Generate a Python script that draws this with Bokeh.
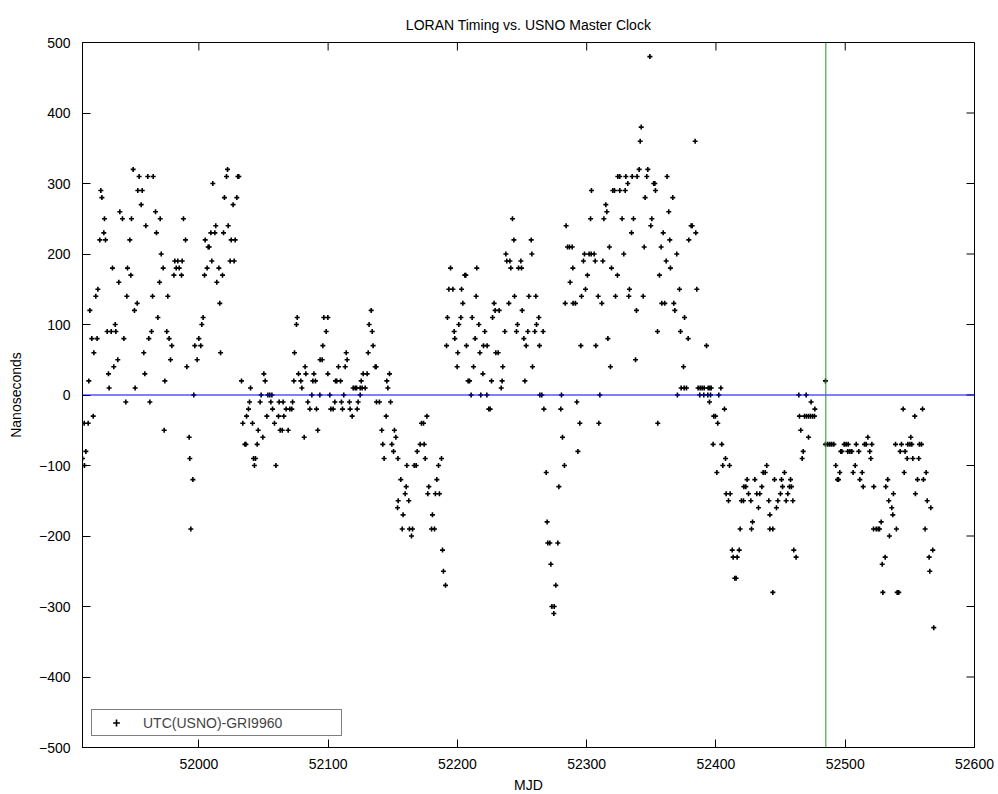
import math
from bokeh.plotting import figure
from bokeh.models import (Span, FixedTicker, Legend, LegendItem,
                          CustomJSTickFormatter, Range1d, ColumnDataSource)
from bokeh.embed import file_html
from bokeh.resources import INLINE

TITLE = "LORAN Timing vs. USNO Master Clock"
X_LABEL = "MJD"
Y_LABEL = "Nanoseconds"
SERIES_NAME = "UTC(USNO)-GRI9960"
X_RANGE = (51910, 52600)
Y_RANGE = (-500, 500)
X_TICKS = [52000, 52100, 52200, 52300, 52400, 52500, 52600]
Y_TICKS = [-500, -400, -300, -200, -100, 0, 100, 200, 300, 400, 500]
ZERO_LEVEL = 0
MARK_MJD = 52485

# (MJD, ns) readings, by stretch of time
seg_a = [(51910.0, -90), (51911.3, -40), (51911.5, -100), (51912.6, -80), (51914.4, -40),
         (51914.9, 20), (51915.7, 120), (51917.2, 80), (51918.3, -30), (51918.8, 60),
         (51920.3, 140), (51921.3, 80), (51921.9, 150), (51923.4, 220), (51924.2, 290),
         (51925.0, 280), (51926.5, 230), (51927.0, 250), (51927.8, 220), (51929.1, 90),
         (51930.1, 30), (51930.6, 10), (51932.2, 90), (51933.2, 180), (51934.2, 40),
         (51935.3, 100), (51935.8, 90), (51937.3, 50), (51938.1, 160), (51938.9, 260),
         (51940.9, 250), (51942.0, 80), (51943.5, -10), (51944.3, 140), (51944.8, 180),
         (51946.6, 220), (51947.4, 170), (51947.9, 250), (51949.2, 320), (51950.2, 120),
         (51950.7, 10), (51952.3, 130), (51952.8, 290), (51953.8, 310), (51955.4, 270),
         (51956.2, 290), (51957.4, 60), (51958.2, 30), (51959.0, 240), (51960.5, 310),
         (51961.3, 80), (51962.1, -10), (51963.4, 90), (51964.2, 140), (51964.7, 310),
         (51966.5, 260), (51967.2, 230), (51968.3, 110), (51969.6, 160), (51970.1, 250),
         (51970.9, 200), (51972.4, 180), (51973.2, -50), (51973.7, 20), (51975.2, 90),
         (51976.0, 140), (51977.0, 80), (51978.1, 50), (51979.1, 70), (51980.7, 170),
         (51981.4, 190), (51982.5, 180), (51983.7, 190), (51984.8, 180), (51986.6, 170),
         (51987.1, 190), (51988.1, 250), (51989.7, 220), (51990.7, 40), (51992.5, -60),
         (51993.0, -90), (51993.8, -190), (51995.4, -120), (51996.1, 0), (51996.9, 70),
         (51998.7, 50), (52000.0, 80), (52001.5, 70), (52002.3, 100)]

seg_b = [(52003.3, 110), (52004.4, 170), (52004.9, 220), (52006.4, 180), (52007.2, 210),
         (52008.0, 210), (52009.3, 230), (52010.0, 190), (52010.8, 300), (52012.4, 230),
         (52013.1, 240), (52013.9, 160), (52015.5, 180), (52016.2, 130), (52016.8, 60),
         (52018.3, 170), (52019.1, 230), (52019.8, 280), (52021.4, 310), (52022.2, 320),
         (52022.7, 240), (52024.2, 190), (52025.0, 220), (52026.5, 270), (52027.3, 190),
         (52028.1, 220), (52029.4, 280), (52030.2, 310), (52030.9, 310), (52033.0, 20),
         (52034.0, -40), (52035.6, -70), (52036.4, -70), (52036.9, -30), (52038.4, -20),
         (52039.2, -10), (52040.0, 10), (52041.5, -40), (52042.3, -90), (52043.0, -100),
         (52043.8, -90), (52045.1, -70), (52045.9, -50), (52047.4, -10), (52048.2, 0),
         (52049.5, -60), (52050.3, 30), (52051.3, 20), (52052.6, -30), (52053.4, 0),
         (52054.9, 0), (52055.7, -10), (52056.5, 0), (52057.0, -20), (52058.5, -40),
         (52059.6, -100), (52061.6, -30), (52062.1, -10), (52062.9, -50), (52064.5, -50),
         (52065.2, -10), (52065.7, -30), (52067.5, -20), (52069.1, -50), (52070.4, -20),
         (52071.9, -20), (52072.5, -10), (52073.5, 20), (52074.0, 60), (52075.5, 100),
         (52076.1, 110), (52077.1, 30), (52078.9, 20), (52079.7, 10), (52081.5, -60),
         (52082.2, 40), (52082.8, 30), (52084.3, -10), (52085.9, -20), (52087.4, 0),
         (52088.2, 20), (52089.0, 30)]

seg_c = [(52090.2, 20), (52091.0, -20), (52092.0, -50), (52093.6, 0), (52093.8, 50),
         (52095.4, 50), (52095.9, 70), (52096.7, 110), (52098.5, 90), (52099.8, 110),
         (52099.8, 30), (52101.3, 0), (52102.1, -20), (52103.9, -20), (52105.2, -10),
         (52105.7, 20), (52106.7, 20), (52108.0, 40), (52109.6, 20), (52110.3, -10),
         (52111.1, -20), (52112.1, 0), (52113.2, 40), (52114.0, 60), (52114.7, 50),
         (52116.5, -10), (52117.0, -20), (52118.6, -30), (52119.4, 10), (52120.9, 10),
         (52122.0, 10), (52122.5, -20), (52123.2, -10), (52124.8, 10), (52124.8, 0),
         (52125.6, 20), (52126.3, 10), (52127.1, 30), (52128.7, 10), (52130.2, 30),
         (52131.0, 60), (52131.7, 100), (52133.3, 120), (52134.1, 90), (52134.8, 70),
         (52136.4, 40), (52137.2, 40), (52137.4, -10), (52139.7, -10), (52141.5, -50),
         (52142.3, -70), (52143.3, -90), (52144.9, -30), (52145.4, 20), (52146.2, 10),
         (52147.5, 30), (52148.3, -10), (52149.3, -70), (52150.6, -80), (52151.3, -50),
         (52152.4, -60), (52153.7, -160), (52154.0, -90), (52154.2, -150), (52156.2, -120),
         (52157.3, -190), (52158.0, -170), (52159.6, -140), (52160.4, -130), (52160.9, -100),
         (52162.4, -150), (52162.9, -190), (52164.5, -200), (52165.3, -190), (52166.6, -100),
         (52168.1, -100), (52168.9, -80), (52171.2, -70), (52172.2, -40), (52173.8, -40),
         (52174.3, -70), (52175.1, -90), (52176.4, -30), (52177.1, -140), (52177.9, -130)]

seg_d = [(52180.0, -190), (52180.7, -170), (52182.3, -190), (52183.0, -140), (52184.1, -120),
         (52185.4, -100), (52186.1, -140), (52187.7, -90), (52188.5, -220), (52189.2, -250),
         (52190.8, -270), (52191.6, 70), (52192.3, 110), (52193.4, 150), (52194.7, 180),
         (52196.5, 150), (52197.5, 90), (52198.0, 80), (52199.8, 40), (52200.3, 60),
         (52201.1, 100), (52202.7, 110), (52203.2, 150), (52204.2, 130), (52205.7, 170),
         (52206.5, 170), (52207.0, 70), (52208.3, 20), (52209.4, 20), (52210.6, 0),
         (52211.4, 110), (52212.5, 40), (52213.7, 80), (52214.5, 140), (52215.0, 180),
         (52216.6, 100), (52217.4, 60), (52218.1, 0), (52219.7, 30), (52220.2, 70),
         (52221.2, 90), (52222.8, 0), (52223.0, 70), (52224.3, -20), (52225.3, -20),
         (52226.4, 20), (52227.2, 110), (52228.4, 130), (52229.2, 120), (52229.7, 60),
         (52231.5, 60), (52232.3, 120), (52233.9, 10), (52234.6, 20), (52235.1, 40),
         (52236.7, 90), (52237.5, 200), (52238.2, 190), (52239.8, 130), (52240.6, 190),
         (52241.3, 180), (52242.6, 250), (52243.7, 220), (52244.2, 140), (52245.7, 90),
         (52246.5, 100), (52247.3, 180), (52249.1, 190), (52249.6, 180), (52250.1, 120),
         (52251.4, 80), (52252.2, 20), (52253.2, 70), (52254.5, 90), (52255.3, 140),
         (52257.1, 220), (52257.6, 200), (52258.1, 40), (52259.9, 90), (52260.7, 140),
         (52261.2, 100), (52263.0, 110), (52263.5, 70), (52263.8, 0), (52265.3, 0),
         (52266.3, 90), (52266.9, -20)]

seg_e = [(52268.7, -110), (52269.4, -180), (52269.9, -210), (52271.5, -210), (52272.3, -240),
         (52273.1, -300), (52274.6, -310), (52274.9, -300), (52276.1, -270), (52277.7, -210),
         (52278.5, -130), (52280.0, -20), (52280.5, 0), (52281.3, -60), (52282.8, -100),
         (52283.4, 130), (52284.1, 240), (52285.2, 210), (52286.7, 210), (52287.2, 160),
         (52288.8, 210), (52289.3, 180), (52289.5, 130), (52291.3, 130), (52292.4, -10),
         (52293.2, -80), (52294.7, -40), (52295.5, 70), (52296.0, 140), (52297.5, 190),
         (52298.3, 200), (52299.1, 150), (52300.6, 170), (52301.9, 200), (52303.0, 250),
         (52303.5, 200), (52303.7, 290), (52305.8, 200), (52306.6, 190), (52307.1, 70),
         (52308.9, 140), (52309.4, -40), (52310.2, 0), (52311.7, 130), (52312.5, 190),
         (52313.3, 250), (52314.8, 270), (52315.6, 260), (52316.4, 80), (52317.6, 210),
         (52318.4, 40), (52319.2, 180), (52320.2, 290), (52321.5, 290), (52322.3, 140),
         (52323.8, 170), (52324.1, 310), (52325.6, 310), (52325.6, 290), (52327.4, 250),
         (52328.7, 200), (52329.8, 290), (52330.3, 310), (52331.8, 300), (52332.6, 140),
         (52333.1, 150), (52334.7, 230), (52335.2, 310), (52336.2, 250), (52337.8, 50),
         (52338.5, 120), (52339.0, 310), (52340.6, 320), (52341.4, 360), (52342.2, 380),
         (52343.7, 140), (52344.5, 210), (52345.2, 280), (52346.5, 310), (52347.3, 320),
         (52348.9, 480), (52349.6, 240), (52350.4, 250), (52351.9, 300), (52352.7, 300),
         (52353.2, 290), (52354.8, 90), (52355.0, -40)]

seg_f = [(52356.3, 170), (52357.6, 210), (52358.1, 130), (52359.2, 230), (52360.4, 130),
         (52361.5, 190), (52362.2, 310), (52363.5, 260), (52364.3, 220), (52364.8, 180),
         (52366.6, 280), (52367.4, 130), (52368.2, 120), (52369.7, 200), (52370.2, 0),
         (52371.8, 150), (52372.6, 90), (52373.1, 10), (52374.9, 40), (52375.4, 10),
         (52375.7, 110), (52377.2, 10), (52378.5, 80), (52379.0, 220), (52380.8, 240),
         (52381.6, 240), (52383.9, 360), (52384.4, 230), (52385.2, 150), (52386.2, 10),
         (52387.5, 0), (52387.8, 10), (52389.3, 10), (52390.6, 0), (52390.9, 10),
         (52392.7, 70), (52393.7, 0), (52394.0, 10), (52395.0, -10), (52395.3, 10),
         (52395.8, 0), (52396.3, 10), (52397.8, -70), (52398.3, -30), (52399.6, -30),
         (52400.7, -110), (52401.4, -40), (52402.2, 0), (52403.8, 10), (52404.5, -70),
         (52405.3, -100), (52406.6, -20), (52407.4, -90), (52407.9, -140), (52409.7, -150),
         (52410.5, -100), (52411.0, -140), (52412.6, -220), (52413.3, -230), (52414.6, -260),
         (52415.6, -260), (52416.4, -230), (52418.0, -220), (52418.7, -190), (52419.7, -150),
         (52421.3, -150), (52421.6, -130), (52423.1, -130), (52424.1, -120), (52425.2, -140),
         (52427.0, -150), (52427.5, -190), (52428.3, -180), (52430.1, -120), (52431.6, -140),
         (52432.9, -160), (52433.9, -140), (52435.5, -130), (52436.5, -110), (52438.1, -110),
         (52439.3, -100), (52440.9, -150), (52441.7, -170), (52441.7, -190), (52444.0, -190),
         (52444.0, -280), (52445.3, -120)]

seg_g = [(52446.8, -160), (52447.9, -150), (52449.9, -140), (52450.7, -120), (52451.5, -130),
         (52453.0, -110), (52454.3, -150), (52455.6, -140), (52456.9, -130), (52457.7, -120),
         (52458.4, -130), (52459.5, -150), (52460.2, -220), (52462.0, -230), (52464.1, 0),
         (52464.6, -30), (52465.6, -50), (52466.7, -90), (52467.5, -80), (52468.5, -30),
         (52469.8, 0), (52470.0, -30), (52471.6, -30), (52471.6, -60), (52473.1, -30),
         (52473.6, -10), (52474.7, -30), (52476.2, -30), (52476.5, -20), (52484.7, 20),
         (52484.7, -70), (52486.5, -70), (52488.1, -70), (52489.6, -70), (52491.2, -70),
         (52492.7, -100), (52494.0, -120), (52494.8, -120), (52495.8, -110), (52496.6, -80),
         (52497.4, -80), (52499.2, -70), (52500.7, -70), (52502.0, -80), (52502.3, -70),
         (52503.6, -80), (52505.1, -80), (52506.1, -110), (52507.7, -100), (52508.5, -70),
         (52510.5, -80), (52511.3, -120), (52513.1, -110), (52513.9, -130), (52514.9, -70),
         (52516.2, -70), (52517.5, -60), (52519.0, -80), (52519.8, -90), (52520.6, -70),
         (52521.9, -190), (52522.1, -130), (52524.0, -190), (52525.5, -190), (52526.5, -190),
         (52527.8, -180), (52528.6, -240), (52529.1, -280), (52530.9, -230), (52531.4, -130),
         (52532.9, -120), (52533.7, -150), (52534.2, -200)]

seg_h = [(52536.0, -160), (52536.8, -170), (52537.3, -140), (52538.9, -70), (52539.6, -190),
         (52540.2, -280), (52541.4, -280), (52542.5, -80), (52543.5, -70), (52544.8, -20),
         (52545.6, -110), (52546.3, -80), (52547.9, -90), (52548.4, -70), (52550.0, -70),
         (52550.7, -60), (52551.5, -70), (52552.3, -90), (52553.8, -30), (52554.3, -140),
         (52555.9, -120), (52556.9, -90), (52557.4, -70), (52559.0, -70), (52559.8, -20),
         (52560.5, -120), (52561.8, -190), (52562.6, -110), (52563.4, -150), (52564.9, -230),
         (52565.4, -250), (52566.2, -160), (52567.7, -220), (52568.5, -330)]

points = seg_a + seg_b + seg_c + seg_d + seg_e + seg_f + seg_g + seg_h
src = ColumnDataSource(dict(mjd=[m for m, _ in points], ns=[v for _, v in points]))

FONT = "Liberation Sans"

p = figure(frame_width=892, frame_height=705,
           x_range=Range1d(*X_RANGE), y_range=Range1d(*Y_RANGE),
           output_backend="svg", toolbar_location=None,
           min_border_left=82, min_border_right=24,
           min_border_top=42, min_border_bottom=47,
           title=TITLE, background_fill_color="white", border_fill_color="white")

p.title.align = "center"
p.title.text_font = FONT
p.title.text_font_size = "14px"
p.title.text_font_style = "normal"
p.title.text_color = "black"
p.title.standoff = 19

p.xgrid.visible = False
p.ygrid.visible = False
p.outline_line_color = "black"
p.outline_line_width = 1

minus = CustomJSTickFormatter(code="return (tick < 0 ? '\u2212' : '') + Math.abs(tick).toFixed(0);")

for ax, ticks in ((p.xaxis[0], X_TICKS), (p.yaxis[0], Y_TICKS)):
    ax.ticker = FixedTicker(ticks=ticks)
    ax.formatter = minus
    ax.axis_line_color = "black"
    ax.major_tick_line_color = "black"
    ax.major_tick_in = 8
    ax.major_tick_out = 0
    ax.minor_tick_line_color = None
    ax.major_label_text_font = FONT
    ax.major_label_text_font_size = "14px"
    ax.major_label_text_color = "black"
    ax.axis_label_text_font = FONT
    ax.axis_label_text_font_size = "14px"
    ax.axis_label_text_font_style = "normal"
    ax.axis_label_text_color = "black"

p.xaxis[0].axis_label = X_LABEL
p.yaxis[0].axis_label = Y_LABEL
p.xaxis[0].major_label_standoff = 11
p.xaxis[0].axis_label_standoff = 5
p.yaxis[0].major_label_standoff = 12
p.yaxis[0].axis_label_standoff = 12

# inward tick marks on the top and right edges of the box (clipped to the frame)
p.scatter(x=X_TICKS, y=[Y_RANGE[1]] * len(X_TICKS), marker="dash", angle=math.pi / 2,
          size=16, line_color="black", line_width=1)
p.scatter(x=[X_RANGE[1]] * len(Y_TICKS), y=Y_TICKS, marker="dash",
          size=16, line_color="black", line_width=1)

r = p.scatter(x="mjd", y="ns", source=src, marker="cross", size=5,
              line_width=1.6, line_color="black")

p.add_layout(Span(location=ZERO_LEVEL, dimension="width", line_color="#0000ff", line_width=1))
p.add_layout(Span(location=MARK_MJD, dimension="height", line_color="#2e8b2e", line_width=1))

legend = Legend(items=[LegendItem(label=SERIES_NAME, renderers=[r])],
                location=(9, 11), margin=0, padding=4, spacing=0,
                glyph_height=17, glyph_width=40, label_height=17,
                label_width=194, label_standoff=7,
                label_text_font=FONT, label_text_font_size="14px",
                border_line_color="black", border_line_width=1,
                background_fill_color="white", background_fill_alpha=1)
p.add_layout(legend)

open("out.html", "w").write(file_html(p, INLINE))
